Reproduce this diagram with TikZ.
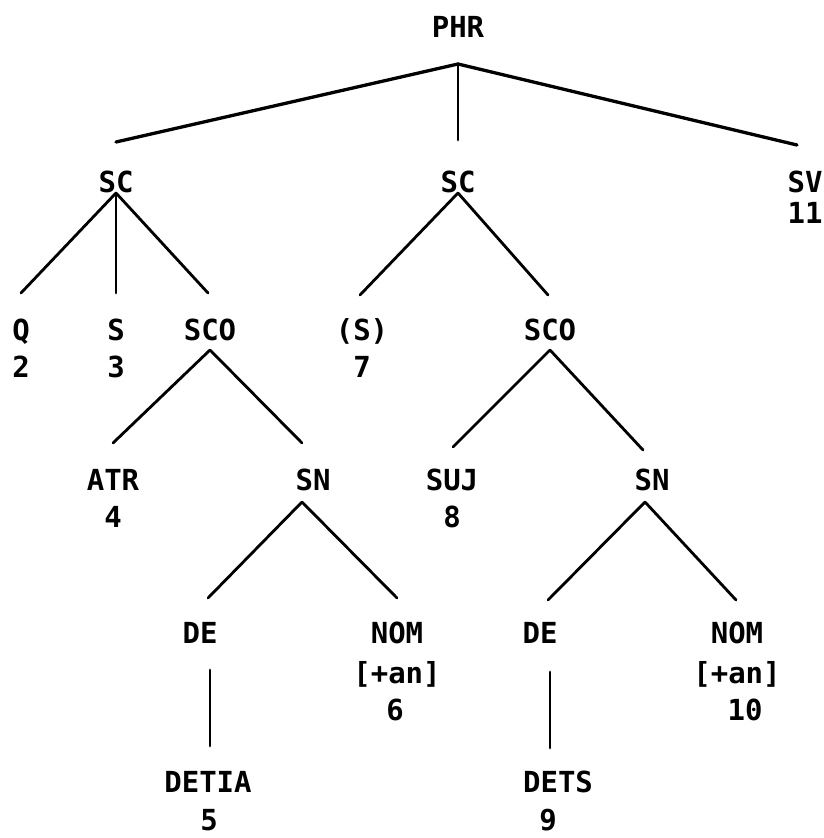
\documentclass[tikz,border=0pt]{standalone}
\usepackage{fontspec}
\newfontfamily\labfont{DejaVu Sans Mono}
\usetikzlibrary{calc}
\begin{document}
\begin{tikzpicture}[x=1pt,y=-1pt,
  lab/.style={anchor=base,inner sep=0pt,font=\labfont\bfseries\fontsize{29}{32}\selectfont},
  edge/.style={line width=2.8pt,line cap=round},
  topedge/.style={line width=3.3pt,line cap=round}]
\useasboundingbox[fill=white] (0,0) rectangle (824,838);
% labels
\node[lab] (PHR) at (458,37) {PHR};
\node[lab] (SC1) at (116,192) {SC};
\node[lab] (SC2) at (458,192) {SC};
\node[lab] (SV) at (805,192) {SV};
\node[lab] (SVn) at (805,223) {11};
\node[lab] (Q) at (21,340) {Q};
\node[lab] (Qn) at (21,377) {2};
\node[lab] (S) at (116,340) {S};
\node[lab] (Sn) at (116,377) {3};
\node[lab] (SCO1) at (210,340) {SCO};
\node[lab] (Sp) at (362,340) {(S)};
\node[lab] (Spn) at (362,377) {7};
\node[lab] (SCO2) at (550,340) {SCO};
\node[lab] (ATR) at (113,490) {ATR};
\node[lab] (ATRn) at (113,527) {4};
\node[lab] (SN1) at (313,490) {SN};
\node[lab] (SUJ) at (452,490) {SUJ};
\node[lab] (SUJn) at (452,527) {8};
\node[lab] (SN2) at (652,490) {SN};
\node[lab] (DE1) at (200,643) {DE};
\node[lab] (NOM1) at (397,643) {NOM};
\node[lab] (NOM1f) at (397,683) {[+an]};
\node[lab] (NOM1n) at (395,720) {6};
\node[lab] (DE2) at (540,643) {DE};
\node[lab] (NOM2) at (737,643) {NOM};
\node[lab] (NOM2f) at (737,683) {[+an]};
\node[lab] (NOM2n) at (745,720) {10};
\node[lab] (DETIA) at (208,792) {DETIA};
\node[lab] (DETIAn) at (209,830) {5};
\node[lab] (DETS) at (558,792) {DETS};
\node[lab] (DETSn) at (548,830) {9};
% connectors
\draw[topedge] ($(PHR.base)+(0,27)$) -- ($(SC1.base)+(0,-50)$);
\draw[edge] ($(PHR.base)+(0,27)$) -- ($(SC2.base)+(0,-52)$);
\draw[topedge] ($(PHR.base)+(0,27)$) -- ($(SV.base)+(-8,-47)$);
\draw[edge] ($(SC1.base)+(0,1)$) -- ($(Q.base)+(0,-47)$);
\draw[edge] ($(SC1.base)+(0,1)$) -- ($(S.base)+(0,-47)$);
\draw[edge] ($(SC1.base)+(0,1)$) -- ($(SCO1.base)+(-2,-47)$);
\draw[edge] ($(SC2.base)+(0,1)$) -- ($(Sp.base)+(-2,-45)$);
\draw[edge] ($(SC2.base)+(0,1)$) -- ($(SCO2.base)+(-2,-45)$);
\draw[edge] ($(SCO1.base)+(0,10)$) -- ($(ATR.base)+(0,-47)$);
\draw[edge] ($(SCO1.base)+(0,10)$) -- ($(SN1.base)+(-11,-47)$);
\draw[edge] ($(SCO2.base)+(0,10)$) -- ($(SUJ.base)+(1,-43)$);
\draw[edge] ($(SCO2.base)+(0,10)$) -- ($(SN2.base)+(-9,-40)$);
\draw[edge] ($(SN1.base)+(-11,12)$) -- ($(DE1.base)+(8,-45)$);
\draw[edge] ($(SN1.base)+(-11,12)$) -- ($(NOM1.base)+(0,-45)$);
\draw[edge] ($(SN2.base)+(-7,12)$) -- ($(DE2.base)+(8,-43)$);
\draw[edge] ($(SN2.base)+(-7,12)$) -- ($(NOM2.base)+(-1,-43)$);
\draw[edge] ($(DE1.base)+(10,27)$) -- ($(DETIA.base)+(2,-46)$);
\draw[edge] ($(DE2.base)+(10,29)$) -- ($(DETS.base)+(-8,-44)$);
\end{tikzpicture}
\end{document}
